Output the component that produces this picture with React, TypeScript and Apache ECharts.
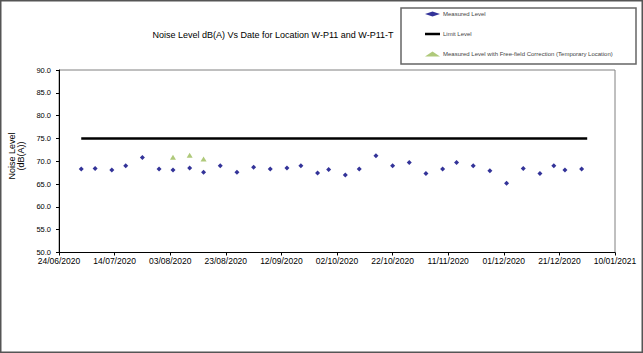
import React, { useEffect, useRef } from "react";
import * as echarts from "echarts";

const xStartDate = "24/06/2020";
const xEndDate = "10/01/2021";
const xTickStepDays = 20;
const yMin = 50;
const yMax = 90;
const yStep = 5;

const measuredDates = [
  "02/07/2020", "07/07/2020", "13/07/2020", "18/07/2020", "24/07/2020", "30/07/2020",
  "04/08/2020", "10/08/2020", "15/08/2020", "21/08/2020", "27/08/2020", "02/09/2020",
  "08/09/2020", "14/09/2020", "19/09/2020", "25/09/2020", "29/09/2020", "05/10/2020",
  "10/10/2020", "16/10/2020", "22/10/2020", "28/10/2020", "03/11/2020", "09/11/2020",
  "14/11/2020", "20/11/2020", "26/11/2020", "02/12/2020", "08/12/2020", "14/12/2020",
  "19/12/2020", "23/12/2020", "29/12/2020",
];
const measuredValues = [
  68.3, 68.4, 68.1, 69.0, 70.8, 68.3,
  68.1, 68.5, 67.6, 69.0, 67.6, 68.7,
  68.3, 68.5, 69.0, 67.4, 68.2, 67.0,
  68.3, 71.2, 69.0, 69.7, 67.3, 68.3,
  69.7, 69.0, 67.9, 65.2, 68.4, 67.3,
  69.0, 68.1, 68.3,
];

const correctedDates = ["04/08/2020", "10/08/2020", "15/08/2020"];
const correctedValues = [70.9, 71.3, 70.5];

const limitDates = ["02/07/2020", "31/12/2020"];
const limitValues = [75, 75];

const seriesNames = [
  "Measured Level",
  "Limit Level",
  "Measured Level with Free-field Correction (Temporary Location)",
];

const titleText = "Noise Level dB(A) Vs Date for Location W-P11 and W-P11-T";
const yAxisTitle = ["Noise Level", "(dB(A))"];

const DAY = 86400000;
function parseDate(s: string): number {
  const [d, m, y] = s.split("/").map(Number);
  return Date.UTC(y, m - 1, d);
}
const startMs = parseDate(xStartDate);
function toDay(s: string): number {
  return Math.round((parseDate(s) - startMs) / DAY);
}
function pad(n: number) {
  return n < 10 ? "0" + n : String(n);
}
function fmtDay(v: number): string {
  const dt = new Date(startMs + Math.round(v) * DAY);
  return pad(dt.getUTCDate()) + "/" + pad(dt.getUTCMonth() + 1) + "/" + dt.getUTCFullYear();
}

export default function App() {
  const ref = useRef<HTMLDivElement>(null);
  useEffect(() => {
    document.body.style.margin = "0";
    if (!ref.current) return;
    const chart = echarts.init(ref.current, undefined, { renderer: "svg" });
    const font = "Liberation Sans, Arial, sans-serif";
    chart.setOption({
      animation: false,
      backgroundColor: "#ffffff",
      textStyle: { fontFamily: font },
      title: {
        text: titleText,
        left: 268,
        top: 25,
        textAlign: "center",
        textStyle: { fontSize: 9, fontWeight: "normal", color: "#000", fontFamily: font },
      },
      legend: {
        orient: "vertical",
        left: 425,
        top: 11,
        itemWidth: 15,
        itemHeight: 5,
        itemGap: 14,
        padding: 0,
        symbolKeepAspect: true,
        textStyle: { fontSize: 6, color: "#444", fontFamily: font, padding: [0, 0, 0, -2] },
        data: [
          { name: seriesNames[0], icon: "diamond" },
          { name: seriesNames[1], icon: "path://M0,0H15V2.5H0Z" },
          { name: seriesNames[2], icon: "triangle" },
        ],
      },
      graphic: [
        {
          type: "rect",
          shape: { x: 0.75, y: 0.75, width: 641.5, height: 351.5 },
          style: { fill: "none", stroke: "#555", lineWidth: 1.5 },
          silent: true,
        },
        {
          type: "rect",
          shape: { x: 401, y: 8, width: 235, height: 56 },
          style: { fill: "none", stroke: "#666", lineWidth: 1.5 },
          silent: true,
        },
        {
          type: "text",
          x: 16,
          y: 156,
          rotation: Math.PI / 2,
          style: {
            text: yAxisTitle.join("\n"),
            fontSize: 9,
            fontFamily: font,
            fill: "#000",
            align: "center",
            verticalAlign: "middle",
            lineHeight: 9,
          },
        },
      ],
      grid: {
        left: 59,
        right: 28,
        top: 70,
        bottom: 100.5,
        show: true,
        borderColor: "#808080",
        borderWidth: 1,
      },
      xAxis: {
        type: "value",
        min: 0,
        max: toDay(xEndDate),
        interval: xTickStepDays,
        axisLine: { show: true, lineStyle: { color: "#000", width: 1 } },
        axisTick: { show: true, inside: false, length: 3, lineStyle: { color: "#000" } },
        splitLine: { show: false },
        axisLabel: {
          formatter: (v: number) => fmtDay(v),
          fontSize: 8.5,
          color: "#000",
          margin: 4,
          interval: 0,
          showMinLabel: true,
          showMaxLabel: true,
          hideOverlap: false,
        },
      },
      yAxis: {
        type: "value",
        min: yMin,
        max: yMax,
        interval: yStep,
        axisLine: { show: true, lineStyle: { color: "#000", width: 1 } },
        axisTick: { show: true, inside: false, length: 3, lineStyle: { color: "#000" } },
        splitLine: { show: false },
        axisLabel: {
          formatter: (v: number) => v.toFixed(1),
          fontSize: 7.5,
          color: "#000",
          margin: 8,
        },
      },
      series: [
        {
          name: seriesNames[0],
          type: "scatter",
          symbol: "diamond",
          symbolSize: 5,
          itemStyle: { color: "#000080" },
          data: measuredDates.map((d, i) => [toDay(d), measuredValues[i]]),
          z: 3,
        },
        {
          name: seriesNames[1],
          type: "line",
          symbol: "none",
          lineStyle: { color: "#000", width: 2.5 },
          itemStyle: { color: "#000" },
          data: limitDates.map((d, i) => [toDay(d), limitValues[i]]),
          z: 2,
        },
        {
          name: seriesNames[2],
          type: "scatter",
          symbol: "triangle",
          symbolSize: [6, 5],
          itemStyle: { color: "#9bbb59" },
          data: correctedDates.map((d, i) => [toDay(d), correctedValues[i]]),
          z: 3,
        },
      ],
    });
    return () => chart.dispose();
  }, []);
  return (
    <div
      ref={ref}
      style={{ position: "absolute", left: 0, top: 0, width: 643, height: 353 }}
    />
  );
}
